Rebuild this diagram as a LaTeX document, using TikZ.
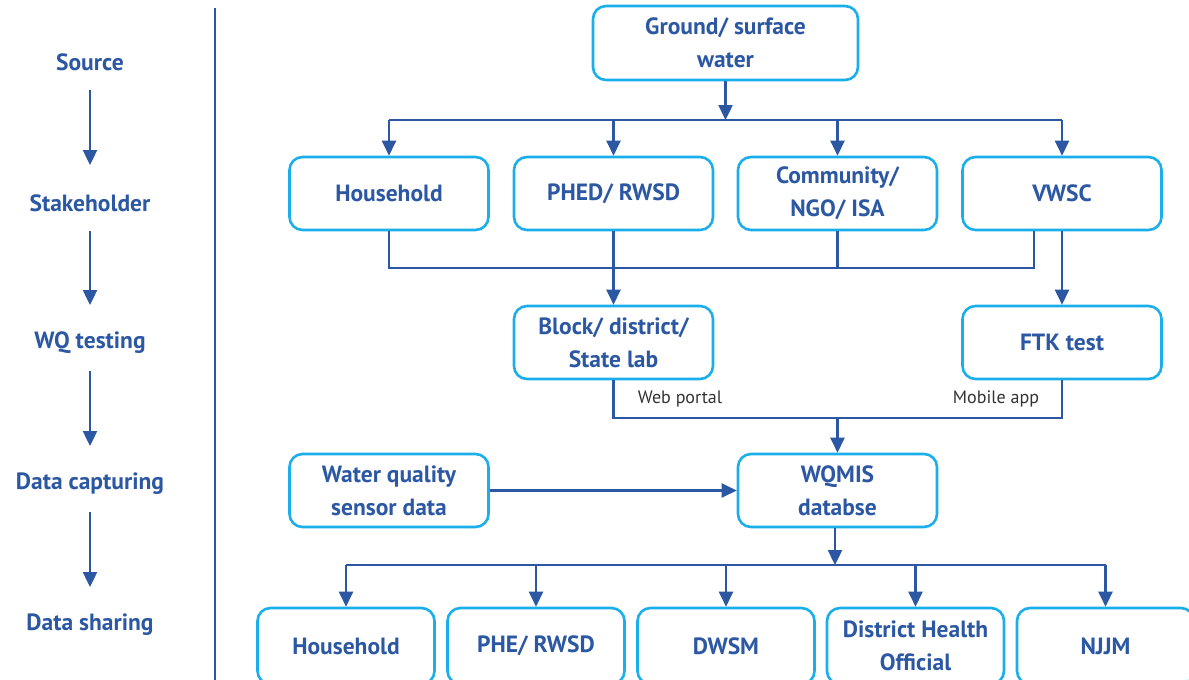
\documentclass[tikz,border=0pt]{standalone}
\usepackage{fontspec}
\setmainfont{PT Sans}
\usetikzlibrary{arrows.meta}
\definecolor{ink}{HTML}{2B57A3}
\definecolor{frame}{HTML}{1AAEEA}
\begin{document}
\begin{tikzpicture}[x=1pt,y=-1pt,
  box/.style={draw=frame, line width=2.6pt, rounded corners=13pt, fill=white,
    text=ink, font=\bfseries\fontsize{23.5}{33}\selectfont, align=center,
    inner sep=0pt, minimum width=#1, minimum height=73pt},
  box/.default=199pt,
  sharebox/.style={box=177pt, minimum height=76pt},
  stage/.style={text=ink, font=\bfseries\fontsize{23.5}{28}\selectfont, inner sep=0pt},
  link/.style={draw=ink, line width=2.4pt},
  flow/.style={link, -{Triangle[length=15pt,width=14pt]}},
  note/.style={text=black!80, font=\fontsize{18}{21}\selectfont, inner sep=0pt}]

\useasboundingbox (0,0) rectangle (1189,680);
\clip (0,0) rectangle (1189,680);

% stage column
\node[stage] (s1) at (90,62)  {Source};
\node[stage] (s2) at (90,203) {Stakeholder};
\node[stage] (s3) at (90,343) {WQ testing};
\node[stage] (s4) at (90,484) {Data capturing};
\node[stage] (s5) at (90,625) {Data sharing};
\foreach \a/\b in {s1/s2,s2/s3,s3/s4,s4/s5}
  \draw[flow, shorten <=28pt, shorten >=38pt] (\a.center) -- (\b.center);

% divider
\coordinate (divtop) at (215,8);
\coordinate (divbot) at (215,680);
\draw[link, line width=2.8pt] (divtop) -- (divbot);

% source
\node[box=265pt, minimum height=74pt] (src) at (725.5,43) {Ground/ surface\\water};

% stakeholders
\node[box] (hh)   at (389,193.5)  {Household};
\node[box] (phed) at (613.5,193.5) {PHED/ RWSD};
\node[box] (ngo)  at (837.5,193.5) {Community/\\NGO/ ISA};
\node[box] (vwsc) at (1062,193.5) {VWSC};

\coordinate (split) at (725.5,120);
\draw[flow] (src.south) -- (split);
\draw[link] (hh.north |- split) -- (vwsc.north |- split);
\foreach \n in {hh,phed,ngo,vwsc}
  \draw[flow] (\n.north |- split) -- (\n.north);

% testing
\node[box] (lab) at (613.5,342.5) {Block/ district/\\State lab};
\node[box] (ftk) at (1062,342.5) {FTK test};

\coordinate (vtap) at (1034,268);
\draw[link] (vwsc.south -| vtap) -- (vtap) -- (hh.south |- vtap) -- (hh.south);
\draw[link] (ngo.south) -- (ngo.south |- vtap);
\draw[flow] (phed.south) -- (lab.north);
\draw[flow] (vwsc.south) -- (ftk.north);

% capturing
\node[box] (sensor) at (389,490.5) {Water quality\\sensor data};
\node[box] (wqmis)  at (837.5,490.5) {WQMIS\\databse};

\coordinate (merge) at (837.5,418);
\draw[link] (lab.south) |- (ftk.south |- merge) -- (ftk.south);
\draw[flow] (merge) -- (wqmis.north);
\node[note] (web) at (680,399) {Web portal};
\node[note] (app) at (996,399) {Mobile app};
\draw[flow] (sensor.east) -- (wqmis.west);

% sharing
\node[sharebox] (d1) at (346,646)    {Household};
\node[sharebox] (d2) at (536,646)    {PHE/ RWSD};
\node[sharebox] (d3) at (726,646)    {DWSM};
\node[sharebox] (d4) at (915.5,646)  {District Health\\Official};
\node[sharebox] (d5) at (1105.5,646) {NJJM};

\coordinate (fan) at (835,565);
\draw[flow] (wqmis.south -| fan) -- (fan);
\draw[link] (d1.north |- fan) -- (d5.north |- fan);
\foreach \n in {d1,d2,d3,d4,d5}
  \draw[flow] (\n.north |- fan) -- (\n.north);
\end{tikzpicture}
\end{document}
